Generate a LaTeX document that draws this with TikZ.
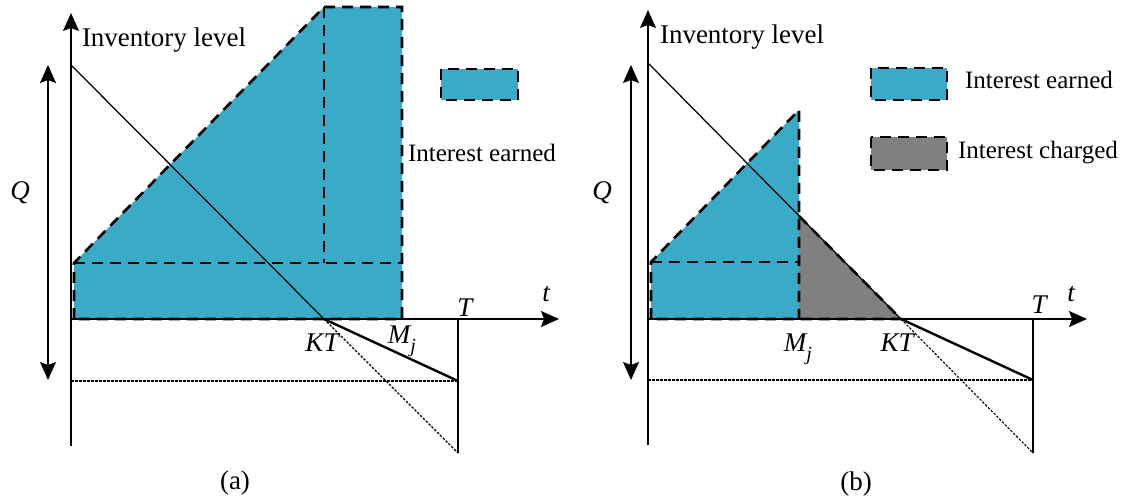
\documentclass[tikz,border=0pt]{standalone}
\usepackage{fontspec}
\setmainfont{Liberation Serif}
\usetikzlibrary{arrows.meta}

\begin{document}
\begin{tikzpicture}[x=1pt,y=1pt,
  axisline/.style={draw=drawColor,line width=1.3pt,line join=round},
  axistip/.style={axisline,-{Stealth[length=18pt,width=16pt,inset=3pt]}},
  qtip/.style={axisline,{Stealth[length=18pt,width=16pt,inset=3pt]}-{Stealth[length=18pt,width=16pt,inset=3pt]}},
  stockline/.style={draw=drawColor,line width=1.25pt,line join=round},
  backline/.style={draw=drawColor,line width=2.4pt,line cap=round},
  dotline/.style={draw=drawColor,line width=1.1pt,dash pattern=on 2.5pt off 1.5pt},
  areaedge/.style={draw=drawColor,line width=2.6pt,dash pattern=on 11pt off 7pt,line join=miter},
  lbl/.style={text=drawColor,inner sep=0pt,outer sep=0pt,font=\fontsize{27}{30}\selectfont},
  keylbl/.style={lbl,anchor=west,font=\fontsize{25}{28}\selectfont},
  mathlbl/.style={lbl,font=\fontsize{27}{30}\selectfont\itshape}]
\definecolor{fillColor}{RGB}{255,255,255}
\definecolor{drawColor}{RGB}{0,0,0}
\definecolor{earnColor}{RGB}{57,171,198}
\definecolor{chargeColor}{RGB}{128,128,128}
\path[use as bounding box,fill=fillColor] (0,0) rectangle (1126,501);

\begin{scope}
\path[fill=earnColor] (74,182) -- (74,238) -- (324,494) -- (402,494) -- (402,182) -- cycle;
\path[fill=earnColor] (441,432) rectangle (518,401);

\path[axistip] (71,55) -- (71,488);
\path[qtip] (48,121) -- (48,436);
\path[axistip] (71,182) -- (559,182);

\path[areaedge] (74,182) -- (74,238) -- (324,494) -- (402,494) -- (402,182) -- cycle;
\path[areaedge] (324,494) -- (324,238);
\path[areaedge] (74,238) -- (402,238);
\path[areaedge] (441,432) rectangle (518,401);

\coordinate (kta) at (324,182);
\coordinate (enda) at (458,120);
\coordinate (lowa) at (458,48);
\path[stockline] (71,436) -- (kta);
\path[backline] (kta) -- (enda);
\path[dotline] (kta) -- (lowa);
\path[dotline] (71,120) -- (enda);
\path[stockline] (458,182) -- (lowa);

\node[lbl,anchor=west] (inva) at (82,461) {Inventory level};
\node[keylbl] (earna) at (408,348) {Interest earned};
\node[mathlbl] (qa) at (20,308) {Q};
\node[mathlbl] (ta) at (546,207) {t};
\node[mathlbl] (bigta) at (465,193) {T};
\node[mathlbl] (ktlbla) at (322,158) {KT};
\node[mathlbl] (mja) at (402,160) {M\raisebox{-9pt}{\fontsize{20}{22}\selectfont j}};
\node[lbl] (capa) at (235,18) {(a)};
\end{scope}

\begin{scope}
\path[fill=earnColor] (651,182) -- (651,239) -- (799,391) -- (799,182) -- cycle;
\path[fill=chargeColor] (799,182) -- (799,285) -- (901,182) -- cycle;
\path[fill=earnColor] (871,433) rectangle (947,401);
\path[fill=chargeColor] (871,364) rectangle (947,331);

\path[axistip] (648,56) -- (648,491);
\path[qtip] (631,121) -- (631,436);
\path[axistip] (648,182) -- (1087,182);

\path[areaedge] (651,182) -- (651,239) -- (799,391) -- (799,182);
\path[areaedge] (651,239) -- (799,239);
\path[areaedge] (799,285) -- (901,182) -- (651,182);
\path[areaedge] (871,433) rectangle (947,401);
\path[areaedge] (871,364) rectangle (947,331);

\coordinate (ktb) at (901,182);
\coordinate (endb) at (1033,121);
\coordinate (lowb) at (1033,48);
\path[stockline] (648,438) -- (ktb);
\path[backline] (ktb) -- (endb);
\path[dotline] (ktb) -- (lowb);
\path[dotline] (648,121) -- (endb);
\path[stockline] (1033,182) -- (lowb);

\node[lbl,anchor=west] (invb) at (660,464) {Inventory level};
\node[keylbl] (earnb) at (965,421) {Interest earned};
\node[keylbl] (chargeb) at (958,348) {Interest charged};
\node[mathlbl] (qb) at (602,308) {Q};
\node[mathlbl] (tb) at (1071,207) {t};
\node[mathlbl] (bigtb) at (1039,196) {T};
\node[mathlbl] (ktlblb) at (897,158) {KT};
\node[mathlbl] (mjb) at (798,152) {M\raisebox{-9pt}{\fontsize{20}{22}\selectfont j}};
\node[lbl] (capb) at (856,17) {(b)};
\end{scope}
\end{tikzpicture}
\end{document}
